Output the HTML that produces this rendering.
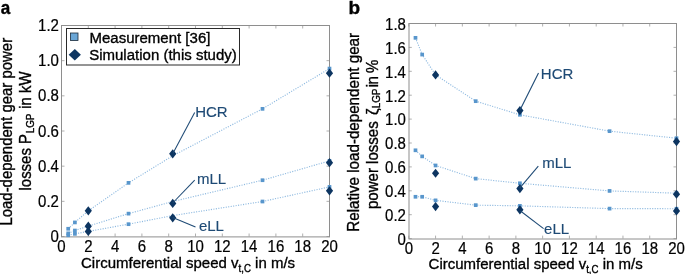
<!DOCTYPE html>
<html><head><meta charset="utf-8"><style>
html,body{margin:0;padding:0;background:#fff;overflow:hidden}
svg{display:block;will-change:transform}
text.r{font-size:16px}
text.t{font-size:15.8px;stroke-width:0.2px}
text{font-family:"Liberation Sans", sans-serif;font-size:15.5px;fill:#000;stroke:#000;stroke-width:0.35px}
</style></head><body>
<svg width="685" height="274" viewBox="0 0 685 274">
<rect width="685" height="274" fill="#fff"/>
<path d="M61.5 236.5v-3M61.5 25.5v3M88.3 236.5v-3M88.3 25.5v3M115.1 236.5v-3M115.1 25.5v3M141.9 236.5v-3M141.9 25.5v3M168.7 236.5v-3M168.7 25.5v3M195.5 236.5v-3M195.5 25.5v3M222.3 236.5v-3M222.3 25.5v3M249.1 236.5v-3M249.1 25.5v3M275.9 236.5v-3M275.9 25.5v3M302.7 236.5v-3M302.7 25.5v3M329.5 236.5v-3M329.5 25.5v3M61.5 236.5h3M329.5 236.5h-3M61.5 201.33h3M329.5 201.33h-3M61.5 166.17h3M329.5 166.17h-3M61.5 131h3M329.5 131h-3M61.5 95.83h3M329.5 95.83h-3M61.5 60.67h3M329.5 60.67h-3M61.5 25.5h3M329.5 25.5h-3" stroke="#b0b0b0" stroke-width="1" fill="none"/>
<rect x="61.5" y="25.5" width="268" height="211.4" stroke="#8e8e8e" stroke-width="1" fill="none"/>
<path d="M68.2 228.76 L74.9 222.43 L88.3 210.83 L128.5 182.87 L172.72 155.79 L262.5 108.84 L329.5 68.58" stroke="#8fbae0" stroke-width="1.15" stroke-dasharray="1.1 1.4" fill="none"/>
<path d="M68.2 233.34 L74.9 230.52 L88.3 226.13 L128.5 213.64 L172.72 201.51 L262.5 180.23 L329.5 160.89" stroke="#8fbae0" stroke-width="1.15" stroke-dasharray="1.1 1.4" fill="none"/>
<path d="M68.2 235.27 L74.9 233.86 L88.3 231.4 L128.5 224.19 L172.72 215.58 L262.5 201.51 L329.5 186.91" stroke="#8fbae0" stroke-width="1.15" stroke-dasharray="1.1 1.4" fill="none"/>
<rect x="66.35" y="226.91" width="3.7" height="3.7" fill="#5896cc"/>
<rect x="73.05" y="220.58" width="3.7" height="3.7" fill="#5896cc"/>
<rect x="86.45" y="208.98" width="3.7" height="3.7" fill="#5896cc"/>
<rect x="126.65" y="181.02" width="3.7" height="3.7" fill="#5896cc"/>
<rect x="260.65" y="106.99" width="3.7" height="3.7" fill="#5896cc"/>
<rect x="327.65" y="66.73" width="3.7" height="3.7" fill="#5896cc"/>
<rect x="66.35" y="231.49" width="3.7" height="3.7" fill="#5896cc"/>
<rect x="73.05" y="228.67" width="3.7" height="3.7" fill="#5896cc"/>
<rect x="86.45" y="224.28" width="3.7" height="3.7" fill="#5896cc"/>
<rect x="126.65" y="211.79" width="3.7" height="3.7" fill="#5896cc"/>
<rect x="260.65" y="178.38" width="3.7" height="3.7" fill="#5896cc"/>
<rect x="327.65" y="159.04" width="3.7" height="3.7" fill="#5896cc"/>
<rect x="66.35" y="233.42" width="3.7" height="3.7" fill="#5896cc"/>
<rect x="73.05" y="232.01" width="3.7" height="3.7" fill="#5896cc"/>
<rect x="86.45" y="229.55" width="3.7" height="3.7" fill="#5896cc"/>
<rect x="126.65" y="222.34" width="3.7" height="3.7" fill="#5896cc"/>
<rect x="260.65" y="199.66" width="3.7" height="3.7" fill="#5896cc"/>
<rect x="327.65" y="185.06" width="3.7" height="3.7" fill="#5896cc"/>
<path d="M88.3 206.23L91.9 210.83L88.3 215.43L84.7 210.83Z" fill="#0d3561"/>
<path d="M88.3 221.53L91.9 226.13L88.3 230.73L84.7 226.13Z" fill="#0d3561"/>
<path d="M88.3 226.8L91.9 231.4L88.3 236L84.7 231.4Z" fill="#0d3561"/>
<path d="M172.72 149.26L176.32 153.86L172.72 158.46L169.12 153.86Z" fill="#0d3561"/>
<path d="M172.72 198.84L176.32 203.44L172.72 208.04L169.12 203.44Z" fill="#0d3561"/>
<path d="M172.72 213.26L176.32 217.86L172.72 222.46L169.12 217.86Z" fill="#0d3561"/>
<path d="M329.5 68.55L333.1 73.15L329.5 77.75L325.9 73.15Z" fill="#0d3561"/>
<path d="M329.5 158.05L333.1 162.65L329.5 167.25L325.9 162.65Z" fill="#0d3561"/>
<path d="M329.5 186.18L333.1 190.78L329.5 195.38L325.9 190.78Z" fill="#0d3561"/>
<path d="M408.8 238.6v-3M408.8 23.5v3M435.57 238.6v-3M435.57 23.5v3M462.34 238.6v-3M462.34 23.5v3M489.11 238.6v-3M489.11 23.5v3M515.88 238.6v-3M515.88 23.5v3M542.65 238.6v-3M542.65 23.5v3M569.42 238.6v-3M569.42 23.5v3M596.19 238.6v-3M596.19 23.5v3M622.96 238.6v-3M622.96 23.5v3M649.73 238.6v-3M649.73 23.5v3M676.5 238.6v-3M676.5 23.5v3M408.8 238.6h3M676.5 238.6h-3M408.8 214.7h3M676.5 214.7h-3M408.8 190.8h3M676.5 190.8h-3M408.8 166.9h3M676.5 166.9h-3M408.8 143h3M676.5 143h-3M408.8 119.1h3M676.5 119.1h-3M408.8 95.2h3M676.5 95.2h-3M408.8 71.3h3M676.5 71.3h-3M408.8 47.4h3M676.5 47.4h-3M408.8 23.5h3M676.5 23.5h-3" stroke="#b0b0b0" stroke-width="1" fill="none"/>
<rect x="409" y="23.5" width="267.5" height="215.5" stroke="#8e8e8e" stroke-width="1" fill="none"/>
<path d="M415.49 37.84 L422.19 54.57 L435.57 74.88 L475.73 101.18 L519.9 114.8 L609.58 131.17 L676.5 138.22" stroke="#8fbae0" stroke-width="1.15" stroke-dasharray="1.1 1.4" fill="none"/>
<path d="M415.49 150.29 L422.19 156.38 L435.57 165.47 L475.73 178.61 L519.9 183.27 L609.58 190.92 L676.5 193.19" stroke="#8fbae0" stroke-width="1.15" stroke-dasharray="1.1 1.4" fill="none"/>
<path d="M415.49 196.78 L422.19 196.78 L435.57 200.36 L475.73 205.14 L519.9 205.86 L609.58 208.61 L676.5 208.72" stroke="#8fbae0" stroke-width="1.15" stroke-dasharray="1.1 1.4" fill="none"/>
<rect x="413.64" y="35.99" width="3.7" height="3.7" fill="#5896cc"/>
<rect x="420.33" y="52.72" width="3.7" height="3.7" fill="#5896cc"/>
<rect x="433.72" y="73.03" width="3.7" height="3.7" fill="#5896cc"/>
<rect x="473.88" y="99.33" width="3.7" height="3.7" fill="#5896cc"/>
<rect x="518.05" y="112.95" width="3.7" height="3.7" fill="#5896cc"/>
<rect x="607.73" y="129.32" width="3.7" height="3.7" fill="#5896cc"/>
<rect x="674.65" y="136.37" width="3.7" height="3.7" fill="#5896cc"/>
<rect x="413.64" y="148.44" width="3.7" height="3.7" fill="#5896cc"/>
<rect x="420.33" y="154.53" width="3.7" height="3.7" fill="#5896cc"/>
<rect x="433.72" y="163.62" width="3.7" height="3.7" fill="#5896cc"/>
<rect x="473.88" y="176.76" width="3.7" height="3.7" fill="#5896cc"/>
<rect x="518.05" y="181.42" width="3.7" height="3.7" fill="#5896cc"/>
<rect x="607.73" y="189.07" width="3.7" height="3.7" fill="#5896cc"/>
<rect x="674.65" y="191.34" width="3.7" height="3.7" fill="#5896cc"/>
<rect x="413.64" y="194.93" width="3.7" height="3.7" fill="#5896cc"/>
<rect x="420.33" y="194.93" width="3.7" height="3.7" fill="#5896cc"/>
<rect x="433.72" y="198.51" width="3.7" height="3.7" fill="#5896cc"/>
<rect x="473.88" y="203.29" width="3.7" height="3.7" fill="#5896cc"/>
<rect x="518.05" y="204.01" width="3.7" height="3.7" fill="#5896cc"/>
<rect x="607.73" y="206.76" width="3.7" height="3.7" fill="#5896cc"/>
<rect x="674.65" y="206.88" width="3.7" height="3.7" fill="#5896cc"/>
<path d="M435.57 70.28L439.17 74.88L435.57 79.48L431.97 74.88Z" fill="#0d3561"/>
<path d="M435.57 168.63L439.17 173.23L435.57 177.83L431.97 173.23Z" fill="#0d3561"/>
<path d="M435.57 201.97L439.17 206.57L435.57 211.17L431.97 206.57Z" fill="#0d3561"/>
<path d="M519.9 106.02L523.5 110.62L519.9 115.22L516.3 110.62Z" fill="#0d3561"/>
<path d="M519.9 183.93L523.5 188.53L519.9 193.13L516.3 188.53Z" fill="#0d3561"/>
<path d="M519.9 205.2L523.5 209.8L519.9 214.4L516.3 209.8Z" fill="#0d3561"/>
<path d="M676.5 136.97L680.1 141.57L676.5 146.17L672.9 141.57Z" fill="#0d3561"/>
<path d="M676.5 189.67L680.1 194.27L676.5 198.87L672.9 194.27Z" fill="#0d3561"/>
<path d="M676.5 206.4L680.1 211L676.5 215.6L672.9 211Z" fill="#0d3561"/>
<text transform="translate(58.9 242.1) scale(0.95 1)" text-anchor="end" class="t">0</text>
<text transform="translate(58.9 206.93) scale(0.95 1)" text-anchor="end" class="t">0.2</text>
<text transform="translate(58.9 171.77) scale(0.95 1)" text-anchor="end" class="t">0.4</text>
<text transform="translate(58.9 136.6) scale(0.95 1)" text-anchor="end" class="t">0.6</text>
<text transform="translate(58.9 101.43) scale(0.95 1)" text-anchor="end" class="t">0.8</text>
<text transform="translate(58.9 66.27) scale(0.95 1)" text-anchor="end" class="t">1.0</text>
<text transform="translate(58.9 31.1) scale(0.95 1)" text-anchor="end" class="t">1.2</text>
<text transform="translate(61.5 252.1) scale(0.95 1)" text-anchor="middle" class="t">0</text>
<text transform="translate(88.3 252.1) scale(0.95 1)" text-anchor="middle" class="t">2</text>
<text transform="translate(115.1 252.1) scale(0.95 1)" text-anchor="middle" class="t">4</text>
<text transform="translate(141.9 252.1) scale(0.95 1)" text-anchor="middle" class="t">6</text>
<text transform="translate(168.7 252.1) scale(0.95 1)" text-anchor="middle" class="t">8</text>
<text transform="translate(195.5 252.1) scale(0.95 1)" text-anchor="middle" class="t">10</text>
<text transform="translate(222.3 252.1) scale(0.95 1)" text-anchor="middle" class="t">12</text>
<text transform="translate(249.1 252.1) scale(0.95 1)" text-anchor="middle" class="t">14</text>
<text transform="translate(275.9 252.1) scale(0.95 1)" text-anchor="middle" class="t">16</text>
<text transform="translate(302.7 252.1) scale(0.95 1)" text-anchor="middle" class="t">18</text>
<text transform="translate(329.5 252.1) scale(0.95 1)" text-anchor="middle" class="t">20</text>
<text transform="translate(405.9 244.9) scale(0.95 1)" text-anchor="end" class="t">0</text>
<text transform="translate(405.9 221) scale(0.95 1)" text-anchor="end" class="t">0.2</text>
<text transform="translate(405.9 197.1) scale(0.95 1)" text-anchor="end" class="t">0.4</text>
<text transform="translate(405.9 173.2) scale(0.95 1)" text-anchor="end" class="t">0.6</text>
<text transform="translate(405.9 149.3) scale(0.95 1)" text-anchor="end" class="t">0.8</text>
<text transform="translate(405.9 125.4) scale(0.95 1)" text-anchor="end" class="t">1.0</text>
<text transform="translate(405.9 101.5) scale(0.95 1)" text-anchor="end" class="t">1.2</text>
<text transform="translate(405.9 77.6) scale(0.95 1)" text-anchor="end" class="t">1.4</text>
<text transform="translate(405.9 53.7) scale(0.95 1)" text-anchor="end" class="t">1.6</text>
<text transform="translate(405.9 29.8) scale(0.95 1)" text-anchor="end" class="t">1.8</text>
<text transform="translate(408.8 254.2) scale(0.95 1)" text-anchor="middle" class="t">0</text>
<text transform="translate(435.57 254.2) scale(0.95 1)" text-anchor="middle" class="t">2</text>
<text transform="translate(462.34 254.2) scale(0.95 1)" text-anchor="middle" class="t">4</text>
<text transform="translate(489.11 254.2) scale(0.95 1)" text-anchor="middle" class="t">6</text>
<text transform="translate(515.88 254.2) scale(0.95 1)" text-anchor="middle" class="t">8</text>
<text transform="translate(542.65 254.2) scale(0.95 1)" text-anchor="middle" class="t">10</text>
<text transform="translate(569.42 254.2) scale(0.95 1)" text-anchor="middle" class="t">12</text>
<text transform="translate(596.19 254.2) scale(0.95 1)" text-anchor="middle" class="t">14</text>
<text transform="translate(622.96 254.2) scale(0.95 1)" text-anchor="middle" class="t">16</text>
<text transform="translate(649.73 254.2) scale(0.95 1)" text-anchor="middle" class="t">18</text>
<text transform="translate(676.5 254.2) scale(0.95 1)" text-anchor="middle" class="t">20</text>
<text transform="translate(0.8 14) scale(0.9 1)" style="font-size:19px;font-weight:bold">a</text>
<text transform="translate(348.5 14) scale(1 1)" style="font-size:19px;font-weight:bold">b</text>
<text transform="translate(81 267.9) scale(0.968 1)">Circumferential speed v<tspan font-size="10" dy="3.9">t,C</tspan><tspan dy="-3.9"> in m/s</tspan></text>
<text transform="translate(428.6 269) scale(0.968 1)">Circumferential speed v<tspan font-size="10" dy="3.9">t,C</tspan><tspan dy="-3.9"> in m/s</tspan></text>
<text transform="translate(11.9 225.6) rotate(-90) scale(0.935 1)" class="r">Load-dependent gear power</text>
<text transform="translate(30.8 190.5) rotate(-90) scale(0.935 1)" class="r">losses P<tspan font-size="10.5" dx="0.8" dy="3">LGP</tspan><tspan dy="-3" dx="0.8"> in kW</tspan></text>
<text transform="translate(359.3 231.7) rotate(-90) scale(0.947 1)" class="r">Relative load-dependent gear</text>
<text transform="translate(378.1 209) rotate(-90) scale(0.94 1)" class="r">power losses <tspan dx="2.3">ζ</tspan><tspan font-size="10.5" dy="2.2">LGP</tspan><tspan dy="-2.2" dx="-2.3" letter-spacing="-0.6"> in %</tspan></text>
<rect x="66.5" y="28.5" width="173" height="36.5" fill="#fff" stroke="#2a2a2a" stroke-width="1"/>
<rect x="70.5" y="33" width="7.5" height="7.5" fill="#6aa6d6" stroke="#1a2a3a" stroke-width="0.8"/>
<path d="M74.8 49.1L80.9 54.8L74.8 60.5L68.7 54.8Z" fill="#0d3561"/>
<text transform="translate(89.5 42.6) scale(0.968 1)">Measurement [36]</text>
<text transform="translate(89.2 59.7) scale(0.968 1)">Simulation (this study)</text>
<line x1="194.7" y1="112.6" x2="173" y2="153.2" stroke="#1e4a75" stroke-width="1.05"/>
<text transform="translate(195.2 117) scale(0.968 1)" style="fill:#1e4a75;stroke:#1e4a75;stroke-width:0.15px">HCR</text>
<line x1="194.7" y1="180.2" x2="172.7" y2="203" stroke="#1e4a75" stroke-width="1.05"/>
<text transform="translate(196.9 184) scale(0.968 1)" style="fill:#1e4a75;stroke:#1e4a75;stroke-width:0.15px">mLL</text>
<line x1="195.5" y1="227" x2="172.7" y2="217.4" stroke="#1e4a75" stroke-width="1.05"/>
<text transform="translate(198.9 231.4) scale(0.968 1)" style="fill:#1e4a75;stroke:#1e4a75;stroke-width:0.15px">eLL</text>
<line x1="538.5" y1="73" x2="520" y2="110" stroke="#1e4a75" stroke-width="1.05"/>
<text transform="translate(540.8 78.9) scale(0.968 1)" style="fill:#1e4a75;stroke:#1e4a75;stroke-width:0.15px">HCR</text>
<line x1="538.3" y1="166.1" x2="519.7" y2="188.1" stroke="#1e4a75" stroke-width="1.05"/>
<text transform="translate(542.2 168.4) scale(0.968 1)" style="fill:#1e4a75;stroke:#1e4a75;stroke-width:0.15px">mLL</text>
<line x1="543.6" y1="228.7" x2="520.5" y2="211" stroke="#1e4a75" stroke-width="1.05"/>
<text transform="translate(544.1 233.6) scale(0.968 1)" style="fill:#1e4a75;stroke:#1e4a75;stroke-width:0.15px">eLL</text>
</svg>
</body></html>
